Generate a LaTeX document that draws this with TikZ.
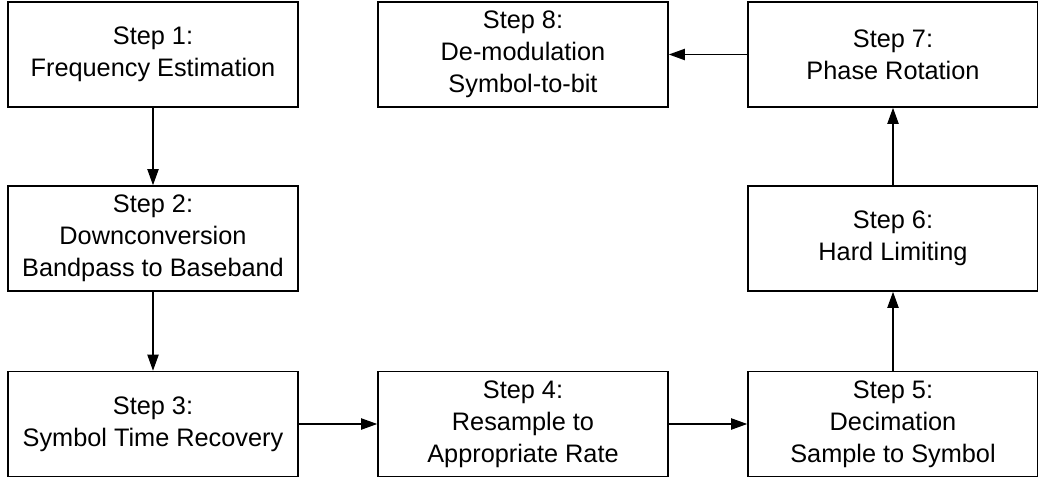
\documentclass[tikz,border=0pt]{standalone}
\usepackage{fontspec}
\setmainfont{Liberation Sans}
\usepackage{tikz}
\usetikzlibrary{arrows.meta, positioning}

\begin{document}
\begin{tikzpicture}[every node/.style={font=\fontsize{18}{22.7}\selectfont},
  stepbox/.style={draw, line width=1.1pt, minimum width=7.25cm, minimum height=2.625cm, align=center},
  >={Triangle[length=11.5pt, width=8pt]}]
  \useasboundingbox (0,0) rectangle (25.95,12);
  % top row
  \node[stepbox] (s1) at (3.825,10.6375) {Step 1:\\Frequency Estimation};
  \node[stepbox] (s8) at (13.075,10.6375) {Step 8:\\De-modulation\\Symbol-to-bit};
  \node[stepbox] (s7) at (22.325,10.6375) {Step 7:\\Phase Rotation};
  % middle row
  \node[stepbox] (s2) at (3.825,6.0375) {Step 2:\\Downconversion\\Bandpass to Baseband};
  \node[stepbox] (s6) at (22.325,6.0375) {Step 6:\\Hard Limiting};
  % bottom row
  \node[stepbox] (s3) at (3.825,1.4) {Step 3:\\Symbol Time Recovery};
  \node[stepbox] (s4) at (13.075,1.4) {Step 4:\\Resample to\\Appropriate Rate};
  \node[stepbox] (s5) at (22.325,1.4) {Step 5:\\Decimation\\Sample to Symbol};
  \draw[->, line width=1.1pt] (s1) -- (s2);
  \draw[->, line width=1.1pt] (s2) -- (s3);
  \draw[->, line width=1.1pt] (s3) -- (s4);
  \draw[->, line width=1.1pt] (s4) -- (s5);
  \draw[->, line width=1.1pt] (s5) -- (s6);
  \draw[->, line width=1.1pt] (s6) -- (s7);
  \draw[->, line width=1.1pt] (s7) -- (s8);
\end{tikzpicture}
\end{document}
